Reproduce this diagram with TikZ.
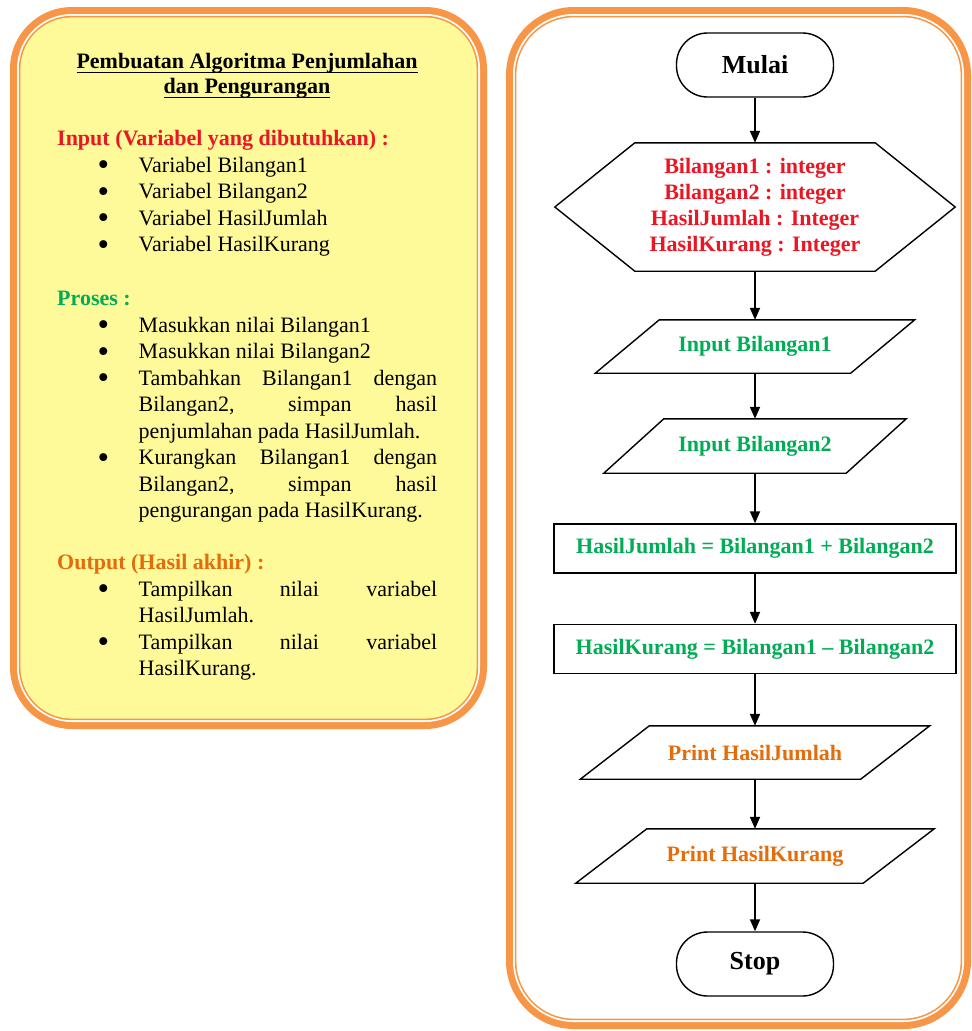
\documentclass[tikz,border=0pt]{standalone}
\usepackage{fontspec}
\setmainfont{Liberation Serif}
\usetikzlibrary{arrows.meta}

\definecolor{frameorange}{RGB}{247,150,70}
\definecolor{noteyellow}{RGB}{255,250,153}
\definecolor{varred}{RGB}{235,22,35}
\definecolor{procgreen}{RGB}{0,172,85}
\definecolor{outorange}{RGB}{228,108,10}

% one bullet point with hanging indent, closed by its own \par
\newcommand{\bulletitem}[1]{\noindent\hangindent=39pt\hangafter=1%
  \makebox[39pt][l]{\hspace{-2pt}\smash{\raisebox{-3.5pt}{\scalebox{1.5}{\textbullet}}}}#1\par}
% underline at a fixed depth below the baseline
\newcommand{\fixedul}[1]{\setbox0=\hbox{#1}\rlap{\rule[-5pt]{\wd0}{1.4pt}}\box0}

\begin{document}
\begin{tikzpicture}[x=1pt, y=-1pt,
  note/.style={inner sep=0pt, anchor=base west, font=\fontsize{22pt}{26.5pt}\selectfont},
  heading/.style={note, font=\fontsize{22pt}{26.5pt}\selectfont\bfseries},
  bullets/.style={note, text width=337.5pt, align=justify},
  chart/.style={inner sep=0pt, font=\fontsize{22pt}{26pt}\selectfont\bfseries},
  terminal/.style={chart, draw, line width=1.4pt, rounded corners=31pt, minimum width=157pt, minimum height=64pt, font=\fontsize{26pt}{30pt}\selectfont\bfseries},
  process/.style={chart, draw, line width=1.4pt, minimum width=402pt, minimum height=49pt},
  io/.style={chart, minimum height=53pt},
  flow/.style={line width=1.8pt, -{Triangle[length=12pt,width=10pt]}}
]
\useasboundingbox[fill=white] (0,0) rectangle (972,1031);

% double orange frames: thick band, white gap, thin line, then the fill
\foreach \inset/\col in {0/frameorange, 7/white, 8.8/frameorange, 10.4/noteyellow}
  \fill[\col, rounded corners=62-\inset] (10+\inset,7+\inset) rectangle (487-\inset,729-\inset);
\foreach \inset/\col in {0/frameorange, 7/white, 8.8/frameorange, 10.4/white}
  \fill[\col, rounded corners=68-\inset] (506+\inset,7+\inset) rectangle (971-\inset,1029-\inset);

% algorithm notes (title sits on the baseline of its second line)
\node[heading, anchor=base, align=center, font=\fontsize{22pt}{25pt}\selectfont\bfseries] (title) at (247,93)
  {\fixedul{Pembuatan Algoritma Penjumlahan}\\\fixedul{dan Pengurangan}};

\node[heading, text=varred] (inhead) at (57,145.5) {Input (Variabel yang dibutuhkan) :};
\node[bullets] (inlist) at (99.5,172) {%
  \bulletitem{Variabel Bilangan1}%
  \bulletitem{Variabel Bilangan2}%
  \bulletitem{Variabel HasilJumlah}%
  \bulletitem{Variabel HasilKurang}};

\node[heading, text=procgreen] (prohead) at (57,305.5) {Proses :};
\node[bullets] (prolist) at (99.5,332) {%
  \bulletitem{Masukkan nilai Bilangan1}%
  \bulletitem{Masukkan nilai Bilangan2}%
  \bulletitem{Tambahkan Bilangan1 dengan\linebreak Bilangan2, simpan hasil\linebreak penjumlahan pada HasilJumlah.}%
  \bulletitem{Kurangkan Bilangan1 dengan\linebreak Bilangan2, simpan hasil\linebreak pengurangan pada HasilKurang.}};

\node[heading, text=outorange] (outhead) at (57,569.5) {Output (Hasil akhir) :};
\node[bullets] (outlist) at (99.5,596) {%
  \bulletitem{Tampilkan nilai variabel\linebreak HasilJumlah.}%
  \bulletitem{Tampilkan nilai variabel\linebreak HasilKurang.}};

% flowchart
\node[terminal] (mulai) at (755,65) {Mulai};
\node[chart, text=varred, align=center, minimum width=240pt, minimum height=128pt, below of=mulai, node distance=142pt] (decl)
  {Bilangan1 : integer\\Bilangan2 : integer\\HasilJumlah : Integer\\HasilKurang : Integer};
\node[io, text=procgreen, minimum width=255pt, below of=decl, node distance=139.5pt] (in1) {Input Bilangan1};
\node[io, text=procgreen, minimum width=242pt, minimum height=54pt, below of=in1, node distance=99.5pt] (in2) {Input Bilangan2};
\node[process, text=procgreen, below of=in2, node distance=102.5pt] (sum) {HasilJumlah = Bilangan1 + Bilangan2};
\node[process, text=procgreen, below of=sum, node distance=100.5pt] (diff) {HasilKurang = Bilangan1 \textendash{} Bilangan2};
\node[io, text=outorange, minimum width=280pt, below of=diff, node distance=103.5pt] (out1) {Print HasilJumlah};
\node[io, text=outorange, minimum width=287pt, minimum height=54pt, below of=out1, node distance=103.5pt] (out2) {Print HasilKurang};
\node[terminal, below of=out2, node distance=108pt] (stop) {Stop};

% hexagon around the declarations
\draw[line width=1.4pt] (decl.north west) -- (decl.north east) -- ([xshift=80pt]decl.east)
  -- (decl.south east) -- (decl.south west) -- ([xshift=-80pt]decl.west) -- cycle;
% slanted input/output boxes
\foreach \n/\s in {in1/32, in2/30, out1/34.5, out2/35.5}
  \draw[line width=1.4pt] ([xshift=\s pt]\n.north west) -- ([xshift=\s pt]\n.north east)
    -- ([xshift=-\s pt]\n.south east) -- ([xshift=-\s pt]\n.south west) -- cycle;

\foreach \a/\b in {mulai/decl, decl/in1, in1/in2, in2/sum, sum/diff, diff/out1, out1/out2, out2/stop}
  \draw[flow] (\a.south) -- (\b.north);
\end{tikzpicture}
\end{document}
